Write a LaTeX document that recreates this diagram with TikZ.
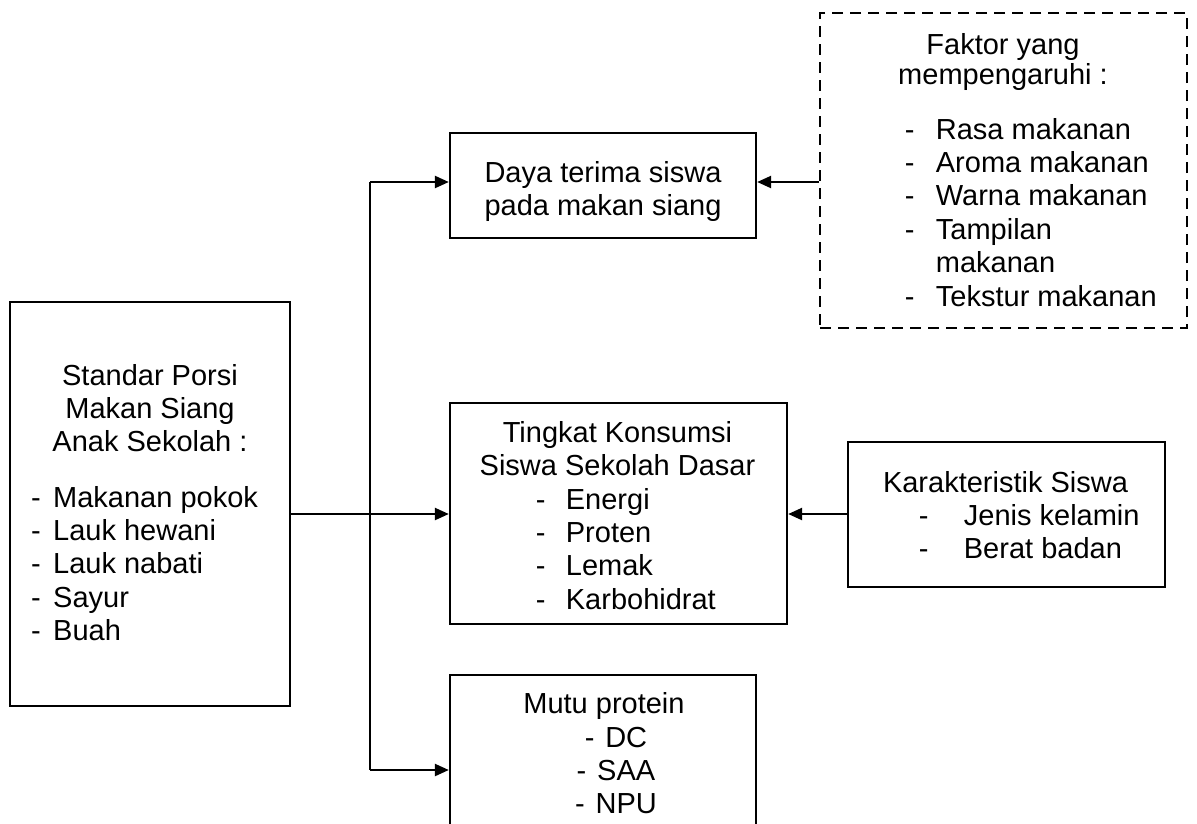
\documentclass[tikz,border=0pt]{standalone}
\usepackage{fontspec}
\setmainfont{Liberation Sans}
\usetikzlibrary{arrows.meta,fit}
\newcommand{\dsh}[1]{\makebox[#1][l]{-}}
\begin{document}
\begin{tikzpicture}[x=1pt,y=-1pt,
  box/.style={draw, line width=2.3pt, inner sep=0pt},
  dbox/.style={box, dash pattern=on 11pt off 7pt},
  txt/.style={inner sep=0pt, font=\fontsize{29}{33.4}\selectfont, align=center, anchor=north},
  txtl/.style={inner sep=0pt, font=\fontsize{29}{33.4}\selectfont, align=left, anchor=north west},
  conn/.style={line width=2.3pt},
  arr/.style={conn, -{Triangle[length=14pt,width=12pt]}}]
\useasboundingbox (0,0) rectangle (1197,823);
\clip (0,0) rectangle (1197,823);
% boxes
\node[box, fit={(10,302) (290,706)}] (std) {};
\node[box, fit={(450,133) (756,238)}] (daya) {};
\node[dbox, fit={(820,13) (1187,328)}] (faktor) {};
\node[box, fit={(450,403) (787,624)}] (ting) {};
\node[box, fit={(848,442) (1165,587)}] (kar) {};
\node[box, fit={(450,675) (756,860)}] (mutu) {};
% texts
\node[txt] (stdT) at (150,361.6) {\strut Standar Porsi\\Makan Siang\\Anak Sekolah :};
\node[txtl] (stdL) at (31,483.6) {\strut\dsh{22pt}Makanan pokok\\\dsh{22pt}Lauk hewani\\\dsh{22pt}Lauk nabati\\\dsh{22pt}Sayur\\\dsh{22pt}Buah};
\node[txt] (dayaT) at (603,158.6) {\strut Daya terima siswa\\pada makan siang};
\node[txt] (faktT) at (1003,30.6) {\strut Faktor yang\\[-3.4pt]mempengaruhi :};
\node[txtl] (faktL) at (904.7,115.6) {\strut\dsh{31pt}Rasa makanan\\\dsh{31pt}Aroma makanan\\\dsh{31pt}Warna makanan\\\dsh{31pt}Tampilan\\\makebox[31pt]{}makanan\\\dsh{31pt}Tekstur makanan};
\node[txt] (tingT) at (617.5,418.6) {\strut Tingkat Konsumsi\\Siswa Sekolah Dasar};
\node[txtl] (tingL) at (535.7,485.6) {\strut\dsh{30pt}Energi\\\dsh{30pt}Proten\\\dsh{30pt}Lemak\\\dsh{30pt}Karbohidrat};
\node[txt] (karT) at (1005.5,468.6) {\strut Karakteristik Siswa};
\node[txtl] (karL) at (918.7,501.6) {\strut\dsh{45pt}Jenis kelamin\\\dsh{45pt}Berat badan};
\node[txt] (mutuT) at (604,689.6) {\strut Mutu protein};
\node[txt] (mutuL) at (616,723.6) {\strut\dsh{20.5pt}DC\\\dsh{20.5pt}SAA\\\dsh{20.5pt}NPU};
% connectors
\coordinate (s) at (290,514);
\coordinate (jt) at (370,182);
\coordinate (jb) at (370,770);
\draw[arr] (s) -- (s -| ting.west);
\draw[conn] (jt) -- (jb);
\draw[arr] (jt) -- (jt -| daya.west);
\draw[arr] (jb) -- (jb -| mutu.west);
\draw[arr] (jt -| faktor.west) -- (jt -| daya.east);
\draw[arr] (s -| kar.west) -- (s -| ting.east);
\end{tikzpicture}
\end{document}
